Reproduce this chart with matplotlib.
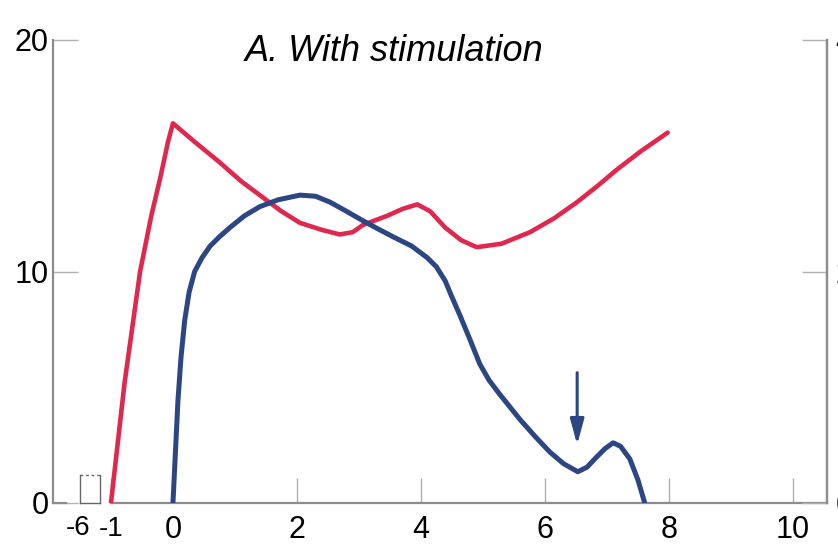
import matplotlib
matplotlib.use("Agg")
import matplotlib.pyplot as plt
from matplotlib.patches import FancyArrowPatch

plt.rcParams['font.family'] = ['Liberation Sans', 'DejaVu Sans']

# Data
red_x = [-1.0, -0.78, -0.53, -0.35, -0.2, -0.08, 0.0, 0.35, 0.76, 1.1, 1.4, 1.75, 2.05, 2.4, 2.69, 2.9, 3.06, 3.25, 3.45, 3.7, 3.94, 4.15, 4.39, 4.65, 4.9, 5.3, 5.76, 6.15, 6.52, 6.85, 7.16, 7.55, 7.98]
red_y = [0.0, 5.2, 10.0, 12.4, 14.1, 15.6, 16.4, 15.6, 14.7, 13.9, 13.3, 12.6, 12.1, 11.8, 11.6, 11.7, 12.0, 12.2, 12.4, 12.7, 12.9, 12.6, 11.9, 11.35, 11.05, 11.2, 11.7, 12.3, 13.0, 13.7, 14.4, 15.2, 16.0]

blue_x = [0.0, 0.04, 0.08, 0.13, 0.19, 0.26, 0.35, 0.47, 0.6, 0.75, 0.92, 1.15, 1.4, 1.7, 2.05, 2.3, 2.53, 2.8, 3.06, 3.3, 3.55, 3.85, 4.1, 4.25, 4.39, 4.5, 4.63, 4.8, 4.95, 5.1, 5.27, 5.45, 5.6, 5.85, 6.08, 6.3, 6.53, 6.68, 6.82, 6.97, 7.1, 7.22, 7.37, 7.5, 7.61]
blue_y = [0.0, 2.2, 4.4, 6.3, 7.9, 9.1, 10.0, 10.6, 11.1, 11.5, 11.9, 12.4, 12.8, 13.1, 13.3, 13.25, 13.0, 12.6, 12.2, 11.85, 11.5, 11.1, 10.6, 10.2, 9.6, 8.9, 8.1, 7.0, 6.0, 5.3, 4.7, 4.1, 3.6, 2.85, 2.2, 1.7, 1.35, 1.55, 1.95, 2.35, 2.6, 2.45, 1.9, 1.0, 0.0]

arrow_x = 6.52
arrow_from = 5.75
arrow_to = 2.4

x_ticks = [-1, 0, 2, 4, 6, 8, 10]
x_ticklabels = ['-1', '0', '2', '4', '6', '8', '10']
left_ticks = [0, 10, 20]
right_ticks = [0, 20, 40]

W, H = 838, 557
fig = plt.figure(figsize=(W / 100, H / 100), dpi=100)
L, R, B, T = 53, 827, 503, 40
ax = fig.add_axes([L / W, 1 - B / H, (R - L) / W, (B - T) / H])

x0 = -1.935
x1 = 10.55
ax.set_xlim(x0, x1)
ax.set_ylim(0, 20)

ax.plot(red_x, red_y, color='#e0284f', lw=3.3, solid_joinstyle='round', solid_capstyle='round', zorder=3)
ax.plot(blue_x, blue_y, color='#2c4683', lw=3.6, solid_joinstyle='round', solid_capstyle='round', zorder=4)

ax.add_patch(FancyArrowPatch((arrow_x, arrow_from), (arrow_x, arrow_to),
                             arrowstyle='-|>,head_length=1.1,head_width=0.3',
                             mutation_scale=14, color='#2c4683', lw=2.2, zorder=5))

spine_c = '#8c8c8c'
for s in ['left', 'right', 'bottom']:
    ax.spines[s].set_color(spine_c)
    ax.spines[s].set_linewidth(1.6)
ax.spines['top'].set_visible(False)
ax.spines['bottom'].set_bounds(-1.0, x1)

ax.set_xticks(x_ticks)
ax.set_xticklabels(x_ticklabels)
ax.set_yticks(left_ticks)
ax.tick_params(axis='both', direction='in', length=18, width=1.0, color='#b0b0b0',
               labelsize=22, pad=3)
ax.tick_params(axis='x', pad=9)
ax.get_xticklabels()[0].set_fontsize(20)

# broken-axis label and mark
ax.text(-1.53, -0.5, '-6', ha='center', va='top', fontsize=20)
ax.plot([x0, -1.72], [0, 0], color=spine_c, lw=1.6, clip_on=False)
ax.plot([-1.5, -1.5], [0, 1.2], color='#666666', lw=1.0, clip_on=False)
ax.plot([-1.18, -1.18], [0, 1.2], color='#666666', lw=1.0, clip_on=False)
ax.plot([-1.5, -1.18], [1.2, 1.2], color='#666666', lw=1.0, ls=(0, (2, 2)), clip_on=False)
ax.plot([-1.5, -1.18], [0, 0], color='#666666', lw=1.0, clip_on=False)

ax2 = ax.twinx()
ax2.set_ylim(0, 40)
ax2.set_yticks(right_ticks)
ax2.spines['top'].set_visible(False)
ax2.spines['left'].set_visible(False)
ax2.spines['bottom'].set_visible(False)
ax2.spines['right'].set_color(spine_c)
ax2.spines['right'].set_linewidth(1.6)
ax2.tick_params(axis='y', direction='in', length=18, width=1.0, color='#b0b0b0',
                labelsize=22, pad=6)

ax.text(0.4405, 0.975, 'A. With stimulation', transform=ax.transAxes, ha='center', va='center',
        fontsize=26, style='italic')

fig.savefig('out.png', dpi=100)
